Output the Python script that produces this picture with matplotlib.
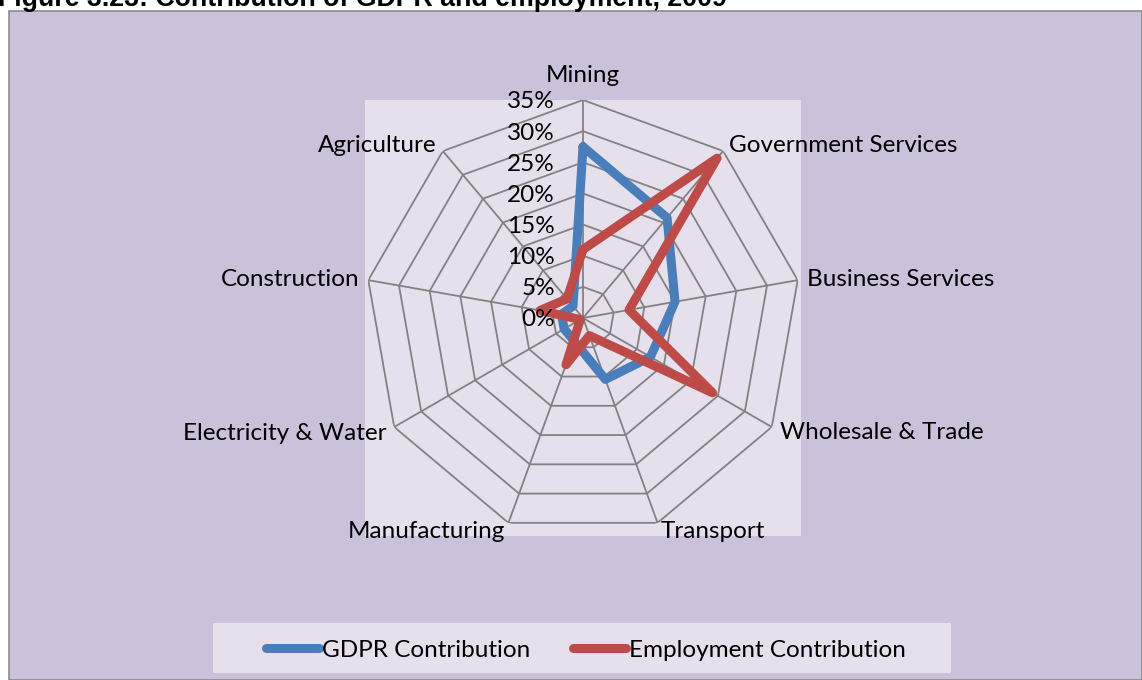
import matplotlib.pyplot as plt
import numpy as np
from matplotlib.patches import Rectangle
from matplotlib.lines import Line2D

# sector shares, 2009 (percent)
sectors = ['Mining', 'Government Services', 'Business Services', 'Wholesale & Trade',
           'Transport', 'Manufacturing', 'Electricity & Water', 'Construction', 'Agriculture']
gdpr = [27.5, 21.0, 15.0, 12.5, 10.5, 4.0, 3.5, 3.5, 2.5]
employment = [11.0, 33.5, 7.5, 24.0, 3.0, 8.0, 0.5, 7.0, 4.0]
ring_levels = [0, 5, 10, 15, 20, 25, 30, 35]
ring_labels = ['0%', '5%', '10%', '15%', '20%', '25%', '30%', '35%']

W, H = 1142, 680
FS = 17.5
plt.rcParams['font.family'] = ['Lato', 'DejaVu Sans']

fig = plt.figure(figsize=(W / 100, H / 100), dpi=100)
fig.patch.set_facecolor('white')

# chart area with grey border
fig.patches.append(Rectangle((9 / W, 0), (W - 9) / W, (H - 11) / H, transform=fig.transFigure,
                             facecolor='#CCC1DA', edgecolor='#8C8C8C', linewidth=1.2, zorder=-10))
fig.text(-2 / W, 1 - 6 / H, 'Figure 3.23: Contribution of GDPR and employment, 2009',
         family='Liberation Sans', weight='bold', fontsize=19.3, va='baseline', ha='left')

# square plot area behind the radar
px0, py0, side = 365, 100, 436
rect = [px0 / W, (H - py0 - side) / H, side / W, side / H]
fig.patches.append(Rectangle((rect[0], rect[1]), rect[2], rect[3], transform=fig.transFigure,
                             facecolor='#E5E0EC', edgecolor='none', zorder=-9))

ax = fig.add_axes(rect, projection='polar')
ax.set_theta_offset(np.pi / 2)
ax.set_theta_direction(-1)
ax.patch.set_visible(False)
ax.spines['polar'].set_visible(False)
ax.grid(False)
ax.set_xticks([])
ax.set_yticks([])
ax.set_ylim(0, 35)

n = len(sectors)
angles = np.arange(n) * 2 * np.pi / n
closed = np.append(angles, angles[0])

grid_kw = dict(color='#828282', linewidth=1.3, zorder=1)
for lvl in ring_levels[1:]:
    ax.plot(closed, [lvl] * (n + 1), **grid_kw)
for a in angles:
    ax.plot([a, a], [0, 35], **grid_kw)

line_kw = dict(linewidth=6.5, solid_joinstyle='round', solid_capstyle='round', zorder=3)
ax.plot(closed, gdpr + gdpr[:1], color='#4A7EBB', **line_kw)
ax.plot(closed, employment + employment[:1], color='#BE4B48', **line_kw)

# radial scale labels along the Mining spoke
for lvl, lab in zip(ring_levels, ring_labels):
    ax.annotate(lab, xy=(0, lvl), xytext=(-28, -2), textcoords='offset pixels',
                ha='right', va='center', fontsize=FS, annotation_clip=False, zorder=4)

# category labels around the outer ring
label_pos = [(0, 25, 'center'), (6, 6, 'left'), (9, 1, 'left'), (8, -6, 'left'),
             (3, -9, 'left'), (-3, -9, 'right'), (-8, -6, 'right'), (-9, 1, 'right'),
             (-6, 6, 'right')]
for a, name, (dx, dy, ha) in zip(angles, sectors, label_pos):
    ax.annotate(name, xy=(a, 35), xytext=(dx, dy), textcoords='offset pixels',
                ha=ha, va='center', fontsize=FS, annotation_clip=False)

# legend box at the bottom
fig.patches.append(Rectangle((213 / W, (H - 673) / H), 738 / W, 50 / H, transform=fig.transFigure,
                             facecolor='#E5E0EC', edgecolor='none', zorder=-9))
handles = [Line2D([], [], color='#4A7EBB', linewidth=6.5, solid_capstyle='round'),
           Line2D([], [], color='#BE4B48', linewidth=6.5, solid_capstyle='round')]
fig.legend(handles, ['GDPR Contribution', 'Employment Contribution'], loc='center',
           bbox_to_anchor=(586 / W, (H - 650) / H), ncol=2, frameon=False, fontsize=FS,
           handlelength=2.2, handletextpad=0.12, columnspacing=1.75)

fig.savefig('out.png', dpi=100)
